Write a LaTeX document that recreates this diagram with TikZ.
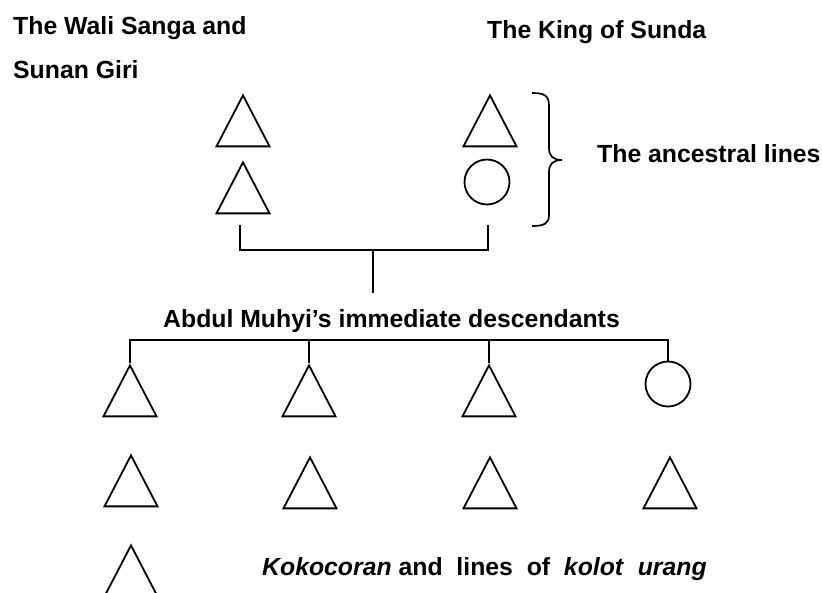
\documentclass[tikz,border=0pt]{standalone}
\usepackage{fontspec}
\setmainfont{Liberation Sans}
\usetikzlibrary{shapes.geometric}
\tikzset{
  tri/.style={draw, line width=1.8pt, isosceles triangle, isosceles triangle stretches=true,
    shape border rotate=90, minimum width=53pt, minimum height=51pt, inner sep=0pt, anchor=apex},
  circ/.style={draw, line width=1.8pt, circle, minimum size=45pt, inner sep=0pt},
  lbl/.style={font=\bfseries\fontsize{24.8}{29}\selectfont, inner sep=0pt, anchor=base west},
  conn/.style={line width=1.8pt}
}
\begin{document}
\begin{tikzpicture}[x=1pt,y=-1pt]
\useasboundingbox (0,0) rectangle (822,592);
\clip (0,0) rectangle (822,592);
% labels
\node[lbl] (wali) at (13,34) {The Wali Sanga and};
\node[lbl] (giri) at (13,78) {Sunan Giri};
\node[lbl] (king) at (487,38) {The King of Sunda};
\node[lbl] (anc) at (597,162) {The ancestral lines};
\node[lbl] (abd) at (163,327) {Abdul Muhyi’s immediate descendants};
\node[lbl] (kok) at (262,575) {\textit{Kokocoran} and\ \ lines\ \ of\ \ \textit{kolot}\ \ \textit{urang}};
% ancestral lines
\node[tri] (a1) at (243,93) {};
\node[tri] (a2) at (243,160) {};
\node[tri] (b1) at (490,93) {};
\node[circ] (b2) at (487,182) {};
% brace
\draw[line width=1.7pt] (532,93) .. controls (545,93) and (549,96) .. (549,106) -- (549,148)
  .. controls (549,156) and (553,160) .. (562,160)
  .. controls (553,160) and (549,164) .. (549,172) -- (549,215)
  .. controls (549,223) and (545,226) .. (532,226);
% bracket joining ancestral lines
\coordinate (bl) at (240,225);
\coordinate (br) at (488,225);
\coordinate (bj) at (373,250);
\coordinate (bd) at (373,293);
\draw[conn] (bl) |- (bj) -| (br);
\draw[conn] (bj) -- (bd);
% immediate descendants
\node[tri] (d1) at (130,363) {};
\node[tri] (d2) at (309,363) {};
\node[tri] (d3) at (489,363) {};
\node[circ] (d4) at (668,384) {};
\coordinate (hl) at (398,340);
\draw[conn] (d1.apex) |- (hl) -| (d4.north);
\draw[conn] (d2.apex) -- (d2.apex |- hl);
\draw[conn] (d3.apex) -- (d3.apex |- hl);
% next generation
\node[tri] (e1) at (131,453) {};
\node[tri] (e2) at (310,455) {};
\node[tri] (e3) at (490,455) {};
\node[tri] (e4) at (670,455) {};
% kokocoran
\node[tri] (f1) at (131,543) {};
\end{tikzpicture}
\end{document}
